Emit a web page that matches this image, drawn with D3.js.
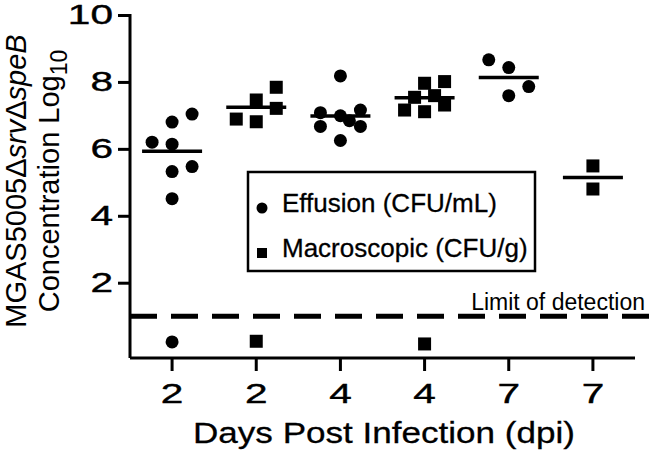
<!DOCTYPE html>
<meta charset="utf-8">
<style>
  body { margin: 0; background: #fff; }
  text { font-family: "Liberation Sans", Arial, sans-serif; fill: #000; }
</style>
<svg width="650" height="453"></svg>
<script src="https://cdn.jsdelivr.net/npm/d3@7"></script>
<script>

// groups along the x axis
var dayLabels = ["2", "2", "4", "4", "7", "7"];
var sampleType = ["effusion", "macro", "effusion", "macro", "effusion", "macro"];

// log10 CFU per animal
var groupValues = [
  [7.04, 6.80, 6.20, 6.14, 5.47, 5.32, 4.51],
  [6.89, 7.46, 6.81, 7.84, 7.21],
  [8.18, 7.08, 6.99, 7.16, 6.67, 6.84, 6.67, 6.25],
  [7.96, 8.01, 7.54, 7.59, 7.16, 7.11, 7.31],
  [8.66, 8.43, 7.86, 7.59],
  [5.49, 4.80]
];
// horizontal jitter slot of each point (-1 left, 0 centre, 1 right)
var groupSlots = [
  [1, 0, -1, 0, 1, 0, 0],
  [-1, 0, 0, 1, 1],
  [0, -1, 0, 1, -1, 0.45, 1, 0],
  [0, 1, -0.5, 0.5, -1, 0, 1],
  [-1, 0, 1, 0],
  [0, 0]
];

// animals below the limit of detection
var belowGroup = [0, 1, 3];
var belowValues = [0.23, 0.25, 0.17];

var limitOfDetection = 1;
var yTicks = [2, 4, 6, 8, 10];

var legendLabels = ["Effusion (CFU/mL)", "Macroscopic (CFU/g)"];

var svg = d3.select("svg");

var x = d3.scaleBand()
    .domain(d3.range(dayLabels.length))
    .range([130, 635])
    .padding(0);

var y = d3.scaleLinear()
    .domain([-0.25, 10])
    .range([358, 15]);

var jitter = d3.scaleLinear().domain([-1, 1]).range([-20, 20]);

var cx = function(g) { return x(g) + x.bandwidth() / 2; };

// dashed limit of detection
svg.append("line")
    .attr("x1", 130).attr("x2", 650)
    .attr("y1", y(limitOfDetection)).attr("y2", y(limitOfDetection))
    .attr("stroke", "#000")
    .attr("stroke-width", 5)
    .attr("stroke-dasharray", "27,14");

svg.append("text")
    .attr("x", 645).attr("y", 310)
    .attr("text-anchor", "end")
    .style("font-size", "23px")
    .text("Limit of detection");

// axes
var yAxis = svg.append("g")
    .attr("transform", "translate(130,0)")
    .call(d3.axisLeft(y).tickValues(yTicks).tickSize(12).tickSizeOuter(0).tickPadding(4));

var xAxis = svg.append("g")
    .attr("transform", "translate(0,358)")
    .call(d3.axisBottom(x).tickSize(13).tickSizeOuter(0)
      .tickFormat(function(i) { return dayLabels[i]; }));

[yAxis, xAxis].forEach(function(a) {
  a.select(".domain").attr("stroke-width", 3);
  a.selectAll(".tick line").attr("stroke-width", 3);
  a.selectAll(".tick text")
      .style("font-size", "28px")
      .style("font-family", "Liberation Sans, Arial, sans-serif")
      .attr("stroke", "#000").attr("stroke-width", 0.4);
});
xAxis.select(".domain").attr("d", "M130,0H635");
yAxis.select(".domain").attr("d", "M0,358V14");

// tick digits in the figure are wide
yAxis.selectAll(".tick text")
    .attr("x", null)
    .attr("transform", "translate(-17,0) scale(1.45,1)");
xAxis.selectAll(".tick text")
    .attr("y", null).attr("dy", null)
    .attr("transform", "translate(0,45) scale(1.45,1)");

// points
var marks = svg.append("g");

function drawMark(sel, type, px, py, size) {
  if (type === "effusion") {
    sel.append("circle").attr("cx", px).attr("cy", py).attr("r", size / 2);
  } else {
    sel.append("rect").attr("x", px - size / 2).attr("y", py - size / 2)
      .attr("width", size).attr("height", size);
  }
}

groupValues.forEach(function(vals, g) {
  vals.forEach(function(v, i) {
    drawMark(marks, sampleType[g], cx(g) + jitter(groupSlots[g][i]), y(v), 13);
  });
  var m = d3.mean(vals);
  marks.append("line")
      .attr("x1", cx(g) - 30).attr("x2", cx(g) + 30)
      .attr("y1", y(m)).attr("y2", y(m))
      .attr("stroke", "#000").attr("stroke-width", 3.5);
});

belowGroup.forEach(function(g, i) {
  drawMark(marks, sampleType[g], cx(g), y(belowValues[i]), 13);
});

marks.selectAll("circle, rect").attr("fill", "#000");

// legend
var legend = svg.append("g");
legend.append("rect")
    .attr("x", 248).attr("y", 172)
    .attr("width", 287).attr("height", 99)
    .attr("fill", "#fff").attr("stroke", "#000").attr("stroke-width", 2.5);

var legendTypes = ["effusion", "macro"];
legendLabels.forEach(function(label, i) {
  var ly = 208 + i * 45;
  drawMark(legend, legendTypes[i], 262, ly, i === 0 ? 11 : 10);
  legend.append("text")
      .attr("x", 282).attr("y", ly + 4)
      .style("font-size", "26px")
      .attr("stroke", "#000").attr("stroke-width", 0.3)
      .text(label);
});
legend.selectAll("circle, rect:not(:first-child)").attr("fill", "#000");

// axis titles
svg.append("text")
    .attr("x", 384).attr("y", 443)
    .attr("text-anchor", "middle")
    .attr("textLength", 382)
    .attr("lengthAdjust", "spacingAndGlyphs")
    .attr("stroke", "#000").attr("stroke-width", 0.3)
    .style("font-size", "30px")
    .text("Days Post Infection (dpi)");

var yl1 = svg.append("text")
    .attr("transform", "translate(26,181) rotate(-90)")
    .attr("text-anchor", "middle")
    .style("font-size", "29px");
yl1.append("tspan").text("MGAS5005\u0394");
yl1.append("tspan").style("font-style", "italic").text("srv");
yl1.append("tspan").text("\u0394");
yl1.append("tspan").style("font-style", "italic").text("speB");

var yl2 = svg.append("text")
    .attr("transform", "translate(59,181) rotate(-90)")
    .attr("text-anchor", "middle")
    .style("font-size", "29px");
yl2.append("tspan").text("Concentration Log");
yl2.append("tspan").attr("dy", 8).style("font-size", "23px").text("10");

</script>
